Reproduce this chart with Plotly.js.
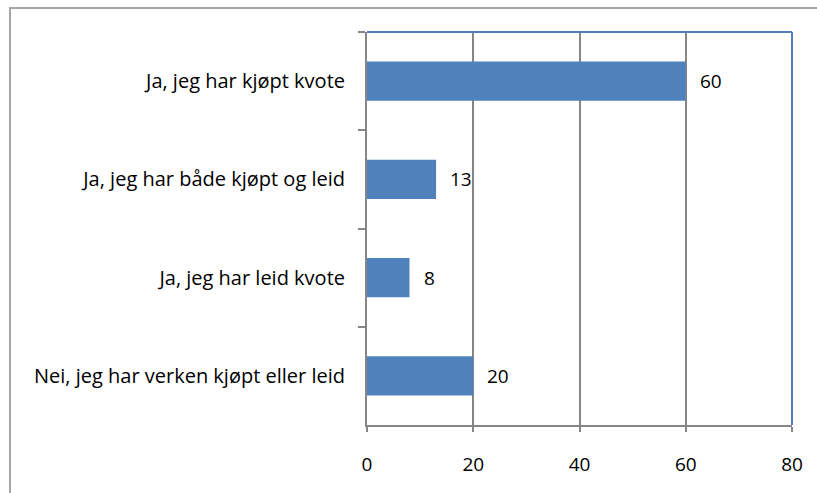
<!DOCTYPE html>
<html>
<head>
<meta charset="utf-8">
<script src="https://cdn.plot.ly/plotly-3.0.1.min.js"></script>
<style>
  html, body { margin: 0; padding: 0; background: #fff; }
  #wrap { position: relative; width: 817px; height: 493px; overflow: hidden; }
  #frame { position: absolute; left: 9px; top: 7px; width: 900px; height: 600px;
           border-top: 2px solid #a5a5a5; border-left: 2px solid #a5a5a5; pointer-events: none; }
  #chart { position: absolute; left: 0; top: 0; width: 817px; height: 493px; }
</style>
</head>
<body>
<div id="wrap">
  <div id="chart"></div>
  <div id="frame"></div>
</div>
<script>
const categories = [
  "Ja, jeg har kjøpt kvote",
  "Ja, jeg har både kjøpt og leid",
  "Ja, jeg har leid kvote",
  "Nei, jeg har verken kjøpt eller leid"
];
const values = [60, 13, 8, 20];
const xTicks = [0, 20, 40, 60, 80];

const FONT = "'Open Sans', 'Noto Sans', sans-serif";
const BLUE = "#4f81bd";
const GRAY = "#868686";
const FS = 19;
const FS_Y = 20;

const trace = {
  type: "bar",
  orientation: "h",
  x: values,
  y: categories,
  marker: { color: BLUE, line: { width: 0 } },
  hoverinfo: "none"
};

const annotations = values.map((v, i) => ({
  x: v, y: categories[i], xref: "x", yref: "y",
  text: String(v), showarrow: false, xanchor: "left", xshift: 12,
  font: { family: FONT, size: FS, color: "#000" }
}));

const layout = {
  width: 817, height: 493,
  margin: { l: 367, r: 25, t: 32, b: 68 },
  paper_bgcolor: "#fff", plot_bgcolor: "#fff",
  showlegend: false,
  bargap: 0.6,
  font: { family: FONT, size: FS, color: "#000" },
  xaxis: {
    range: [0, 80], tickvals: xTicks, ticktext: xTicks.map(String),
    showgrid: true, gridcolor: GRAY, gridwidth: 2,
    zeroline: false, showline: true, linecolor: GRAY, linewidth: 2,
    ticks: "outside", ticklen: 5, tickcolor: GRAY, tickwidth: 2,
    ticklabelstandoff: 16,
    tickfont: { family: FONT, size: FS, color: "#000" },
    fixedrange: true
  },
  yaxis: {
    type: "category", autorange: "reversed",
    tickson: "boundaries",
    showgrid: false, zeroline: false, showline: true, linecolor: GRAY, linewidth: 2,
    ticks: "outside", ticklen: 7, tickcolor: GRAY, tickwidth: 2,
    ticklabelstandoff: 16,
    tickfont: { family: FONT, size: FS_Y, color: "#000" },
    fixedrange: true
  },
  annotations: annotations,
  shapes: [
    { type: "line", xref: "paper", yref: "paper", x0: 0, x1: 1, y0: 1, y1: 1,
      line: { color: BLUE, width: 2 } },
    { type: "line", xref: "paper", yref: "paper", x0: 1, x1: 1, y0: 0, y1: 1,
      line: { color: BLUE, width: 2 } }
  ]
};

Plotly.newPlot("chart", [trace], layout, { displayModeBar: false, staticPlot: true });
</script>
</body>
</html>
